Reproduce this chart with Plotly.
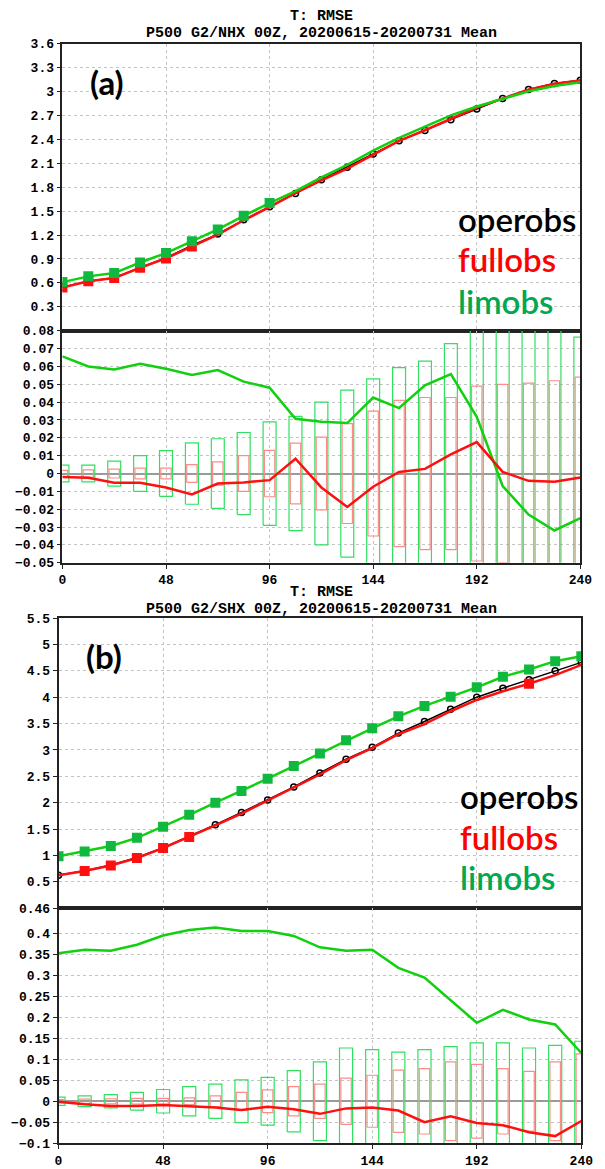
import plotly.graph_objects as go

hours = list(range(0, 241, 12))
xticks = [0, 48, 96, 144, 192, 240]

# ---------------- Panel (a): P500 G2/NHX ----------------
a_operobs = [0.545, 0.622, 0.665, 0.795, 0.915, 1.068, 1.212, 1.390, 1.553, 1.720, 1.894,
             2.050, 2.215, 2.380, 2.510, 2.646, 2.780, 2.910, 3.025, 3.100, 3.140]
a_fullobs = [0.543, 0.620, 0.660, 0.790, 0.907, 1.056, 1.206, 1.385, 1.550, 1.728, 1.886,
             2.031, 2.208, 2.381, 2.513, 2.656, 2.798, 2.911, 3.021, 3.095, 3.138]
a_limobs = [0.610, 0.682, 0.723, 0.856, 0.974, 1.123, 1.270, 1.440, 1.601, 1.750, 1.923,
            2.078, 2.258, 2.417, 2.560, 2.700, 2.810, 2.903, 3.001, 3.068, 3.115]
a_full_diff = [-0.0019, -0.0024, -0.0052, -0.0052, -0.0078, -0.0117, -0.0056, -0.0050, -0.0037,
               0.0083, -0.0078, -0.0187, -0.0074, 0.0009, 0.0026, 0.0107, 0.0176, 0.0009,
               -0.0041, -0.0046, -0.0022]
a_lim_diff = [0.0657, 0.0600, 0.0583, 0.0615, 0.0587, 0.0552, 0.0580, 0.0515, 0.0481, 0.0307,
              0.0290, 0.0283, 0.0426, 0.0367, 0.0494, 0.0557, 0.0318, -0.0070, -0.0230,
              -0.0319, -0.0250]
a_full_ci = [0.0018, 0.0020, 0.0025, 0.0030, 0.0030, 0.0050, 0.0065, 0.0100, 0.0130, 0.0170,
             0.0204, 0.0280, 0.0350, 0.0410, 0.0426, 0.0426, 0.0490, 0.0500, 0.0507, 0.0520,
             0.0540]
a_lim_ci = [0.0047, 0.0047, 0.0070, 0.0100, 0.0128, 0.0172, 0.0195, 0.0230, 0.0290, 0.0320,
            0.0400, 0.0468, 0.0530, 0.0593, 0.0630, 0.0728, 0.0850, 0.0880, 0.0900, 0.0920,
            0.0765]
a_full_sig = [0, 12, 24, 36, 48, 60]
a_lim_sig = [0, 12, 24, 36, 48, 60, 72, 84, 96]

# ---------------- Panel (b): P500 G2/SHX ----------------
b_operobs = [0.628, 0.712, 0.820, 0.962, 1.150, 1.362, 1.585, 1.815, 2.050, 2.300, 2.565,
             2.825, 3.050, 3.320, 3.540, 3.770, 4.000, 4.170, 4.330, 4.500, 4.660]
b_fullobs = [0.627, 0.705, 0.810, 0.951, 1.141, 1.350, 1.570, 1.794, 2.037, 2.281, 2.535,
             2.808, 3.035, 3.298, 3.490, 3.734, 3.948, 4.113, 4.256, 4.417, 4.613]
b_limobs = [0.984, 1.075, 1.180, 1.335, 1.545, 1.770, 2.000, 2.221, 2.456, 2.694, 2.932,
            3.184, 3.411, 3.638, 3.835, 4.010, 4.187, 4.388, 4.525, 4.683, 4.775]
b_full_diff = [-0.001, -0.007, -0.011, -0.011, -0.009, -0.012, -0.015, -0.021, -0.013, -0.019,
               -0.030, -0.017, -0.015, -0.022, -0.050, -0.036, -0.052, -0.057, -0.074,
               -0.083, -0.047]
b_lim_diff = [0.353, 0.361, 0.359, 0.373, 0.395, 0.408, 0.414, 0.406, 0.406, 0.394, 0.367,
              0.359, 0.361, 0.318, 0.295, 0.240, 0.187, 0.218, 0.195, 0.183, 0.115]
b_full_ci = [0.004, 0.005, 0.006, 0.007, 0.007, 0.008, 0.013, 0.021, 0.027, 0.035, 0.041,
             0.055, 0.062, 0.074, 0.078, 0.094, 0.088, 0.078, 0.071, 0.094, 0.113]
b_lim_ci = [0.010, 0.013, 0.016, 0.021, 0.028, 0.035, 0.041, 0.051, 0.057, 0.073, 0.094,
            0.127, 0.123, 0.117, 0.123, 0.130, 0.139, 0.139, 0.127, 0.133, 0.143]
b_full_sig = [12, 24, 36, 48, 60, 216]
b_lim_sig = hours

title1 = "T: RMSE"
a_title2 = "P500 G2/NHX 00Z, 20200615-20200731 Mean"
b_title2 = "P500 G2/SHX 00Z, 20200615-20200731 Mean"
names = ["operobs", "fullobs", "limobs"]

a_top_ticks = [0.3, 0.6, 0.9, 1.2, 1.5, 1.8, 2.1, 2.4, 2.7, 3.0, 3.3, 3.6]
a_top_labels = ["0.3", "0.6", "0.9", "1.2", "1.5", "1.8", "2.1", "2.4", "2.7", "3", "3.3", "3.6"]
a_bot_ticks = [-0.05, -0.04, -0.03, -0.02, -0.01, 0, 0.01, 0.02, 0.03, 0.04, 0.05, 0.06, 0.07, 0.08]
a_bot_labels = ["\u22120.05", "\u22120.04", "\u22120.03", "\u22120.02", "\u22120.01", "0", "0.01",
                "0.02", "0.03", "0.04", "0.05", "0.06", "0.07", "0.08"]
b_top_ticks = [0.5, 1, 1.5, 2, 2.5, 3, 3.5, 4, 4.5, 5, 5.5]
b_top_labels = ["0.5", "1", "1.5", "2", "2.5", "3", "3.5", "4", "4.5", "5", "5.5"]
b_bot_ticks = [-0.1, -0.05, 0, 0.05, 0.1, 0.15, 0.2, 0.25, 0.3, 0.35, 0.4, 0.46]
b_bot_labels = ["\u22120.1", "\u22120.05", "0", "0.05", "0.1", "0.15", "0.2", "0.25", "0.3",
                "0.35", "0.4", "0.46"]

# ---------------- styling ----------------
W, H = 605, 1169
RED = "#ff1010"
GREEN = "#10d010"
BOX_RED = "#ff8a8a"
BOX_GREEN = "#30e060"
LEG_GREEN = "#00a84f"
TICKFONT = dict(family="Liberation Mono", size=13, color="black", weight="bold")


def py(px):
    return 1 - px / H


def px_x(px):
    return px / W


fig = go.Figure()


def box_trace(xs, ci, half_w, color, xa, ya):
    bx, by = [], []
    for x, c in zip(xs, ci):
        bx += [x - half_w, x + half_w, x + half_w, x - half_w, x - half_w, None]
        by += [-c, -c, c, c, -c, None]
    return go.Scatter(x=bx, y=by, mode="lines", line=dict(color=color, width=1.2),
                      xaxis=xa, yaxis=ya, showlegend=False, hoverinfo="skip")


def sig_vals(xs, vals, sig):
    return [v if x in sig else None for x, v in zip(xs, vals)]


def add_panel(oper, full, lim, fdiff, ldiff, fci, lci, fsig, lsig, xa_t, ya_t, xa_b, ya_b):
    fig.add_trace(go.Scatter(x=hours, y=oper, mode="lines+markers", name=names[0],
                             line=dict(color="black", width=1.5),
                             marker=dict(symbol="circle-open", size=6, color="black",
                                         line=dict(width=1.5)),
                             xaxis=xa_t, yaxis=ya_t, showlegend=False))
    fig.add_trace(go.Scatter(x=hours, y=full, mode="lines", name=names[1],
                             line=dict(color=RED, width=2.5),
                             xaxis=xa_t, yaxis=ya_t, showlegend=False))
    fig.add_trace(go.Scatter(x=hours, y=sig_vals(hours, full, fsig), mode="markers",
                             marker=dict(symbol="square", size=10, color=RED),
                             xaxis=xa_t, yaxis=ya_t, showlegend=False))
    fig.add_trace(go.Scatter(x=hours, y=lim, mode="lines", name=names[2],
                             line=dict(color=GREEN, width=2.5),
                             xaxis=xa_t, yaxis=ya_t, showlegend=False))
    fig.add_trace(go.Scatter(x=hours, y=sig_vals(hours, lim, lsig), mode="markers",
                             marker=dict(symbol="square", size=10, color="#10b840"),
                             xaxis=xa_t, yaxis=ya_t, showlegend=False))
    fig.add_trace(box_trace(hours, lci, 3.0, BOX_GREEN, xa_b, ya_b))
    fig.add_trace(box_trace(hours, fci, 2.4, BOX_RED, xa_b, ya_b))
    fig.add_trace(go.Scatter(x=hours, y=ldiff, mode="lines", line=dict(color=GREEN, width=2.5),
                             xaxis=xa_b, yaxis=ya_b, showlegend=False))
    fig.add_trace(go.Scatter(x=hours, y=fdiff, mode="lines", line=dict(color=RED, width=2.5),
                             xaxis=xa_b, yaxis=ya_b, showlegend=False))


add_panel(a_operobs, a_fullobs, a_limobs, a_full_diff, a_lim_diff, a_full_ci, a_lim_ci,
          a_full_sig, a_lim_sig, "x", "y", "x2", "y2")
add_panel(b_operobs, b_fullobs, b_limobs, b_full_diff, b_lim_diff, b_full_ci, b_lim_ci,
          b_full_sig, b_lim_sig, "x3", "y3", "x4", "y4")

ax_common = dict(showline=True, linecolor="#222", linewidth=1.6, mirror=True,
                 showgrid=True, gridcolor="#c4c4c4", griddash="dot", gridwidth=1.3,
                 zeroline=False, tickfont=TICKFONT, ticks="outside", ticklen=4,
                 tickcolor="#222")

a_xdom = [px_x(60), px_x(592)]
b_xdom = [px_x(56), px_x(593)]

layout_axes = {
    "xaxis": dict(ax_common, domain=a_xdom, range=[0, 240], tickvals=xticks,
                  showticklabels=False, ticks="", anchor="y"),
    "yaxis": dict(ax_common, domain=[py(329), py(38)], range=[0, 3.6], tickvals=a_top_ticks,
                  ticktext=a_top_labels, anchor="x"),
    "xaxis2": dict(ax_common, domain=a_xdom, range=[0, 240], tickvals=xticks, anchor="y2"),
    "yaxis2": dict(ax_common, domain=[py(564), py(329)], range=[-0.05, 0.08],
                   tickvals=a_bot_ticks, ticktext=a_bot_labels, anchor="x2",
                   zeroline=True, zerolinecolor="#9a9a9a", zerolinewidth=1.5),
    "xaxis3": dict(ax_common, domain=b_xdom, range=[0, 240], tickvals=xticks,
                   showticklabels=False, ticks="", anchor="y3"),
    "yaxis3": dict(ax_common, domain=[py(914), py(620)], range=[0, 5.5], tickvals=b_top_ticks,
                   ticktext=b_top_labels, anchor="x3"),
    "xaxis4": dict(ax_common, domain=b_xdom, range=[0, 240], tickvals=xticks, anchor="y4"),
    "yaxis4": dict(ax_common, domain=[py(1152), py(914)], range=[-0.1, 0.46],
                   tickvals=b_bot_ticks, ticktext=b_bot_labels, anchor="x4",
                   zeroline=True, zerolinecolor="#9a9a9a", zerolinewidth=1.5),
}

annotations = []
TFONT = dict(family="Liberation Mono", size=15, color="black", weight="bold")
for y1, y2, t2 in [(11, 28, a_title2), (594, 611, b_title2)]:
    annotations.append(dict(x=px_x(326), y=py(y1), xref="paper", yref="paper", text=title1,
                            showarrow=False, font=TFONT, xanchor="center", yanchor="middle",
                            borderpad=0))
    annotations.append(dict(x=px_x(326), y=py(y2), xref="paper", yref="paper", text=t2,
                            showarrow=False, font=TFONT, xanchor="center", yanchor="middle",
                            borderpad=0))

LFONT = "Lato"
for lab, lx, ly in [("(a)", 86, 77), ("(b)", 82, 658)]:
    annotations.append(dict(x=px_x(lx), y=py(ly), xref="paper", yref="paper", text=lab,
                            showarrow=False, xanchor="left", yanchor="middle",
                            font=dict(family=LFONT, size=33, color="black", weight="bold")))

for (yo, yf, yl, x0) in [(216, 256, 299, 464), (800, 842, 882, 466)]:
    for txt, yy, col in [(names[0], yo, "black"), (names[1], yf, "#ff0000"), (names[2], yl, LEG_GREEN)]:
        annotations.append(dict(x=px_x(x0), y=py(yy), xref="paper", yref="paper", text=txt,
                                showarrow=False, xanchor="left", yanchor="middle",
                                font=dict(family=LFONT, size=33, color=col, weight=600)))

fig.update_layout(width=W, height=H, margin=dict(l=0, r=0, t=0, b=0),
                  paper_bgcolor="white", plot_bgcolor="white", showlegend=False,
                  annotations=annotations, **layout_axes)

fig.write_html("out.html")
